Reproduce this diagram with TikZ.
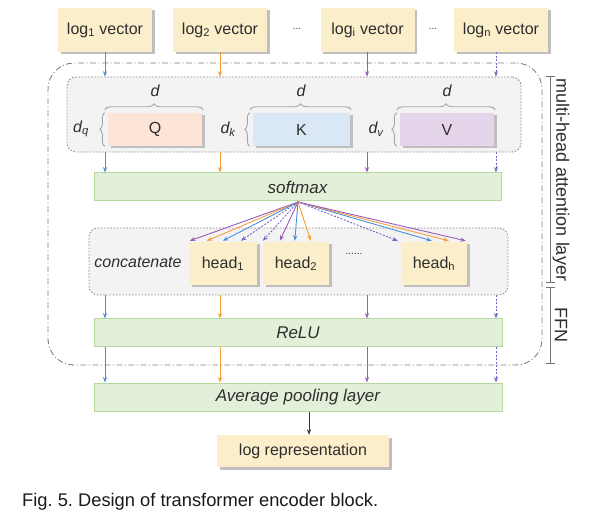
\documentclass[tikz,border=0pt]{standalone}
\usepackage{fontspec}
\setmainfont{Liberation Sans}
\frenchspacing
\usetikzlibrary{arrows.meta,shadows,decorations.pathreplacing}
\definecolor{logfill}{HTML}{FBEECB}
\definecolor{qfill}{HTML}{FCE4D6}
\definecolor{kfill}{HTML}{DAE8F6}
\definecolor{vfill}{HTML}{E5D5EA}
\definecolor{gfill}{HTML}{E2F0D9}
\definecolor{gline}{HTML}{B4D8A0}
\definecolor{boxfill}{HTML}{F3F3F3}
\definecolor{txt}{HTML}{2E2E2E}
\definecolor{cblue}{HTML}{4A90D9}
\definecolor{corange}{HTML}{F59E3A}
\definecolor{cpurple}{HTML}{9B5DB8}
\definecolor{cdash}{HTML}{7468C8}
\tikzset{
  base/.style={font=\fontsize{16}{19}\selectfont, text=txt, inner sep=0pt},
  shad/.style={drop shadow={shadow xshift=2.5pt,shadow yshift=-2.5pt,fill=black!25,opacity=1}},
  logbox/.style={base, fill=logfill, shad, minimum width=94pt, minimum height=44pt},
  matbox/.style={base, shad, minimum height=33pt},
  headbox/.style={base, fill=logfill, shad, minimum height=43pt},
  gbar/.style={base, fill=gfill, draw=gline, line width=1pt, minimum height=28pt, font=\fontsize{17}{20}\selectfont\itshape},
  dotbox/.style={draw=black!45, fill=boxfill, dash pattern=on 1.6pt off 1.6pt, line width=0.8pt, rounded corners=9pt},
  arr/.style={line width=0.9pt, -{Stealth[length=5.5pt,width=4.2pt]}},
  ablue/.style={arr, cblue},
  aorange/.style={arr, corange},
  apurple/.style={arr, cpurple},
  adash/.style={arr, cdash, dash pattern=on 2pt off 1.5pt},
  brc/.style={decorate, decoration={brace, amplitude=6pt}, draw=black!35, line width=0.9pt},
  lbl/.style={base, font=\fontsize{16}{19}\selectfont\itshape},
  side/.style={draw=black!55, line width=1pt},
}
\begin{document}
\begin{tikzpicture}[x=1pt,y=-1pt]
\useasboundingbox (0,0) rectangle (590,516);
% columns
\coordinate (c1) at (105,0);
\coordinate (c2) at (220,0);
\coordinate (c3) at (367,0);
\coordinate (c4) at (496,0);
\coordinate (c5) at (309,0);
% outer dash-dot box
\node[draw=black!50, line width=0.9pt, dash pattern=on 6pt off 2.5pt on 1pt off 2.5pt, rounded corners=26pt, minimum width=494pt, minimum height=302pt, inner sep=0pt] (outer) at (295,214) {};
% log vectors
\node[logbox] (log1) at (105,30) {log\textsubscript{1} vector};
\node[logbox] (log2) at (220,30) {log\textsubscript{2} vector};
\node[logbox] (logi) at (367.5,30) {log\textsubscript{i} vector};
\node[logbox] (logn) at (501,30) {log\textsubscript{n} vector};
\node[base, font=\fontsize{10}{12}\selectfont] (dots1) at (297,29) {...};
\node[base, font=\fontsize{10}{12}\selectfont] (dots2) at (433,29) {...};
% QKV box
\node[dotbox, minimum width=454pt, minimum height=75pt, inner sep=0pt] (qkv) at (294,114.5) {};
\node[matbox, fill=qfill, minimum width=94pt] (Q) at (155,129.5) {Q};
\node[matbox, fill=kfill, minimum width=97pt] (K) at (301.5,129.5) {K};
\node[matbox, fill=vfill, minimum width=94pt] (V) at (447,129.5) {V};
\draw[brc] ([xshift=-3pt,yshift=3pt]Q.north west) -- ([xshift=1pt,yshift=3pt]Q.north east);
\draw[brc] ([xshift=-3pt,yshift=3pt]K.north west) -- ([xshift=1pt,yshift=3pt]K.north east);
\draw[brc] ([xshift=-3pt,yshift=3pt]V.north west) -- ([xshift=1pt,yshift=3pt]V.north east);
\draw[brc, decoration={amplitude=5pt}] ([xshift=-3pt]Q.south west) -- ([xshift=-3pt]Q.north west);
\draw[brc, decoration={amplitude=5pt}] ([xshift=-3pt]K.south west) -- ([xshift=-3pt]K.north west);
\draw[brc, decoration={amplitude=5pt}] ([xshift=-3pt]V.south west) -- ([xshift=-3pt]V.north west);
\node[lbl] (dQ) at (155,91) {d};
\node[lbl] (dK) at (301,91) {d};
\node[lbl] (dV) at (447,91) {d};
\node[lbl] (dq) at (81,129) {d\textsubscript{q}};
\node[lbl] (dk) at (228,129) {d\textsubscript{k}};
\node[lbl] (dv) at (376,129) {d\textsubscript{v}};
% softmax
\node[gbar, minimum width=407pt] (soft) at (297.5,187) {softmax};
% concat box
\node[dotbox, minimum width=419pt, minimum height=67pt, inner sep=0pt] (cat) at (298.5,261.5) {};
\node[lbl] (cattxt) at (138,262) {concatenate};
\node[headbox, minimum width=68pt] (head1) at (223,263.5) {head\textsubscript{1}};
\node[headbox, minimum width=66pt] (head2) at (296,263.5) {head\textsubscript{2}};
\node[headbox, minimum width=66pt] (headh) at (434,263.5) {head\textsubscript{h}};
\node[base, font=\fontsize{10}{12}\selectfont] (hdots) at (354,254) {......};
% ReLU and pooling
\node[gbar, minimum width=408pt] (relu) at (298,333) {ReLU};
\node[gbar, minimum width=408pt] (avg) at (298,397) {Average pooling layer};
\node[base, fill=logfill, shad, minimum width=172pt, minimum height=32pt] (rep) at (303,451) {log representation};
% column arrows
\foreach \s/\t in {log1/qkv, qkv/soft, cat/relu, relu/avg}{
  \draw[ablue] (\s.south -| c1) -- (\t.north -| c1);
  \draw[aorange] (\s.south -| c2) -- (\t.north -| c2);
  \draw[apurple] (\s.south -| c3) -- (\t.north -| c3);
  \draw[adash] (\s.south -| c4) -- (\t.north -| c4);
}
\draw[black!80, line width=0.9pt, -{Stealth[length=5.5pt,width=4.2pt]}] (avg.south -| c5) -- (rep.north -| c5);
% fan
\coordinate (fan) at (298,202);
\draw[apurple] (fan) -- ([xshift=1pt,yshift=1pt]head1.north west);
\draw[aorange] (fan) -- ([xshift=18pt,yshift=1pt]head1.north west);
\draw[ablue] (fan) -- ([xshift=34pt,yshift=1pt]head1.north west);
\draw[adash] (fan) -- ([xshift=52pt,yshift=1pt]head1.north west);
\draw[adash] (fan) -- ([xshift=0pt,yshift=1pt]head2.north west);
\draw[apurple] (fan) -- ([xshift=17pt,yshift=1pt]head2.north west);
\draw[ablue] (fan) -- ([xshift=32pt,yshift=1pt]head2.north west);
\draw[aorange] (fan) -- ([xshift=48pt,yshift=1pt]head2.north west);
\draw[adash] (fan) -- ([xshift=-3pt,yshift=1pt]headh.north west);
\draw[ablue] (fan) -- ([xshift=31pt,yshift=1pt]headh.north west);
\draw[aorange] (fan) -- ([xshift=48pt,yshift=1pt]headh.north west);
\draw[apurple] (fan) -- ([xshift=65pt,yshift=1pt]headh.north west);
% side brackets
\coordinate (m1) at (550,77);
\coordinate (m2) at (550,283);
\coordinate (f1) at (550,288);
\coordinate (f2) at (550,363);
\draw[side] (m1) -- (m2);
\draw[side] ([xshift=-4.5pt]m1) -- ([xshift=4.5pt]m1);
\draw[side] ([xshift=-4.5pt]m2) -- ([xshift=4.5pt]m2);
\draw[side] (f1) -- (f2);
\draw[side] ([xshift=-4.5pt]f1) -- ([xshift=4.5pt]f1);
\draw[side] ([xshift=-4.5pt]f2) -- ([xshift=4.5pt]f2);
\node[base, font=\fontsize{18}{21}\selectfont, rotate=-90] (mhl) at (561,180) {multi-head attention layer};
\node[base, font=\fontsize{18}{21}\selectfont, rotate=-90] (ffn) at (561,325) {FFN};
% caption
\node[base, text=black!90, anchor=west, font=\fontsize{18.3}{21}\selectfont] (cap) at (22,502) {Fig. 5. Design of transformer encoder block.};
\end{tikzpicture}
\end{document}
